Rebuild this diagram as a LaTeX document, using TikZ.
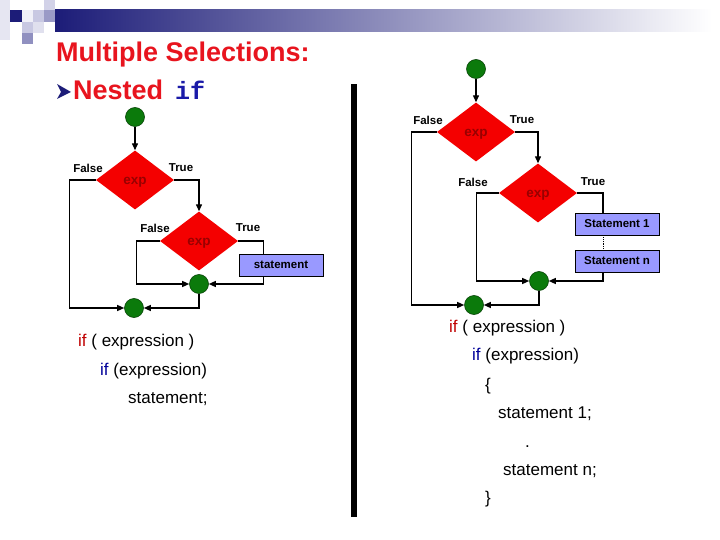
\documentclass[tikz,border=0pt]{standalone}
\usepackage{fontspec}
\setmainfont{Liberation Sans}
\newfontfamily\monofnt{Liberation Mono}
\usetikzlibrary{shapes.geometric,arrows.meta}
\definecolor{titlered}{HTML}{E8141E}
\definecolor{ifblue}{HTML}{1A1AA8}
\definecolor{navy}{HTML}{1C1C78}
\definecolor{diared}{HTML}{F40000}
\definecolor{expred}{HTML}{990000}
\definecolor{dotgreen}{HTML}{0B7A0B}
\definecolor{boxblue}{HTML}{9999FF}
\definecolor{codered}{HTML}{C00000}
\definecolor{codeblue}{HTML}{000099}
\definecolor{sqa}{HTML}{E6E6F2}
\definecolor{sqb}{HTML}{F0F0F8}
\definecolor{sqc}{HTML}{C8C8E2}
\definecolor{sqd}{HTML}{D2D2E8}
\definecolor{sqe}{HTML}{9A9AC6}
\definecolor{sqf}{HTML}{E0E0EE}
\definecolor{sqg}{HTML}{9090C0}
\tikzset{
  flow/.style={line width=1.3pt, black},
  arr/.style={-{Triangle[length=7pt,width=6pt]}},
  dia/.style={diamond, fill=diared, minimum width=78pt, minimum height=59pt, inner sep=0pt,
              text=expred, font=\fontsize{13.5}{15}\selectfont\bfseries},
  dot/.style={circle, fill=dotgreen, draw=dotgreen!55!black, line width=0.6pt, minimum size=19pt, inner sep=0pt},
  sbox/.style={rectangle, draw=black, line width=0.8pt, fill=boxblue, minimum width=84pt, minimum height=22pt,
               inner sep=0pt, font=\fontsize{11.5}{13}\selectfont\bfseries},
  lab/.style={font=\fontsize{11.5}{13}\selectfont\bfseries, inner sep=0pt},
  code/.style={font=\fontsize{17}{19}\selectfont, anchor=base west, inner sep=0pt},
  titlefont/.style={font=\fontsize{27}{30}\selectfont\bfseries, text=titlered, anchor=base west, inner sep=0pt}
}
\newcommand{\exptext}{\raisebox{-4.5pt}[0pt][0pt]{exp}}
\begin{document}
\begin{tikzpicture}[x=1pt,y=-1pt]
\useasboundingbox (0,0) rectangle (720,540);
\fill[white] (0,0) rectangle (720,540);
% header
\shade[left color=navy, right color=white] (55,10) rectangle (712,32);
\fill[sqa] (0,0) rectangle (10,40);
\fill[navy] (10,10) rectangle (22,22);
\fill[sqb] (22,10) rectangle (33,22);
\fill[sqc] (33,10) rectangle (44,22);
\fill[sqd] (44,0) rectangle (55,10);
\fill[sqe] (44,10) rectangle (55,22);
\fill[sqc] (22,22) rectangle (33,33);
\fill[sqf] (33,22) rectangle (44,33);
\fill[sqg] (22,33) rectangle (33,44);
% title
\node[titlefont] (title) at (56,62) {Multiple Selections:};
\fill[navy] (57,84) -- (71,92) -- (57,99) -- (61,92) -- cycle;
\node[titlefont] (nested) at (73,100) {Nested};
\node[anchor=base west, inner sep=0pt, text=ifblue, font=\monofnt\fontsize{25}{28}\selectfont\bfseries] (nif) at (175,100) {if};
% divider
\fill[black] (351,84) rectangle (357,517);

% left flowchart
\node[dot] (ls) at (135,117) {};
\node[dia] (ld1) at (135,180) {\exptext};
\node[dia] (ld2) at (199,241) {\exptext};
\node[dot] (lm) at (199,284) {};
\node[dot] (lb) at (134,308) {};
\draw[flow,arr] (ls) -- (ld1);
\draw[flow,arr] (ld1.east) -| (ld2.north);
\draw[flow,arr] (ld2.west) -- ++(-23,0) |- (lm.west);
\draw[flow,arr] (ld2.east) -- ++(25,0) |- (lm.east);
\draw[flow,arr] (lm.south) |- (lb.east);
\draw[flow,arr] (ld1.west) -- ++(-26,0) |- (lb.west);
\node[sbox] (lst) at (281,265) {statement};
\node[lab] (lf1) at (88,168) {False};
\node[lab] (lt1) at (181,168) {True};
\node[lab] (lf2) at (155,228) {False};
\node[lab] (lt2) at (248,228) {True};

% right flowchart
\node[dot] (rs) at (476,69) {};
\node[dia] (rd1) at (476,132) {\exptext};
\node[dia] (rd2) at (538,193) {\exptext};
\node[dot] (rm) at (539,281) {};
\node[dot] (rb) at (474,305) {};
\node[sbox] (rs1) at (617,224) {Statement 1};
\node[sbox] (rsn) at (617,261) {Statement n};
\coordinate (rv) at (603,0);
\draw[flow,arr] (rs) -- (rd1);
\draw[flow,arr] (rd1.east) -| (rd2.north);
\draw[flow,arr] (rd2.west) -- ++(-22,0) |- (rm.west);
\draw[flow] (rd2.east) -| (rv |- rs1.north);
\draw[black, line width=0.8pt, densely dotted] (rv |- rs1.south) -- (rv |- rsn.north);
\draw[flow,arr] (rv |- rsn.south) |- (rm.east);
\draw[flow,arr] (rm.south) |- (rb.east);
\draw[flow,arr] (rd1.west) -- ++(-25,0) |- (rb.west);
\node[lab] (rf1) at (428,120) {False};
\node[lab] (rt1) at (522,120) {True};
\node[lab] (rf2) at (473,182) {False};
\node[lab] (rt2) at (593,182) {True};

% left code
\node[code] (lc1) at (78,346) {\textcolor{codered}{if} ( expression )};
\node[code] (lc2) at (100,375) {\textcolor{codeblue}{if} (expression)};
\node[code] (lc3) at (128,403) {statement;};

% right code
\node[code] (rc1) at (449,332) {\textcolor{codered}{if} ( expression )};
\node[code] (rc2) at (472,360) {\textcolor{codeblue}{if} (expression)};
\node[code] (rc3) at (485,390) {\{};
\node[code] (rc4) at (498,418) {statement 1;};
\node[code] (rc5) at (525,447) {.};
\node[code] (rc6) at (503,475) {statement n;};
\node[code] (rc7) at (485,503) {\}};
\end{tikzpicture}
\end{document}
